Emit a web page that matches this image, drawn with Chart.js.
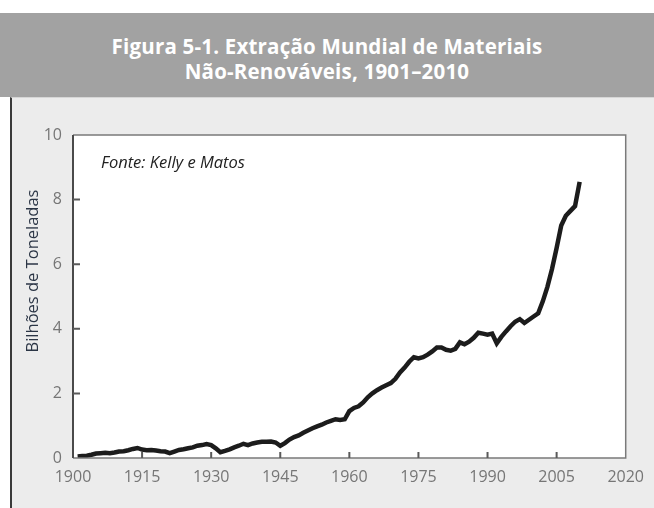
<!DOCTYPE html>
<html>
<head>
<meta charset="utf-8">
<script src="https://cdn.jsdelivr.net/npm/chart.js@4.4.1/dist/chart.umd.min.js"></script>
<style>
  html, body { margin: 0; padding: 0; background: #fff; }
  #page { position: relative; width: 654px; height: 508px; overflow: hidden; }
  #header {
    position: absolute; left: 0; top: 13px; width: 654px; height: 84px;
    background: #a2a2a2; color: #fff; text-align: center;
    font-family: "Open Sans", sans-serif; font-weight: 700; font-size: 20.5px;
    line-height: 25px; box-sizing: border-box; padding-top: 21px; letter-spacing: 0.2px;
  }
  #panel {
    position: absolute; left: 10px; top: 97px; width: 644px; height: 411px;
    background: #ececec; border-left: 2px solid #3a3a3a; border-top: 1px solid #d6d6d6;
    box-sizing: border-box;
  }
  #chart { position: absolute; left: 0; top: 0; }
</style>
</head>
<body>
<div id="page">
  <div id="header">Figura 5-1. Extração Mundial de Materiais<br>Não-Renováveis, 1901–2010</div>
  <div id="panel"></div>
  <canvas id="chart" width="654" height="508"></canvas>
</div>
<script>
// anos e valores (bilhões de toneladas)
var years = [];
for (var yr = 1901; yr <= 2010; yr++) years.push(yr);

var tonnes = [
  0.05, 0.06, 0.07, 0.10, 0.14, 0.15, 0.16, 0.15, 0.17, 0.20,   // 1901-1910
  0.21, 0.24, 0.28, 0.31, 0.26, 0.24, 0.25, 0.23, 0.21, 0.20,   // 1911-1920
  0.15, 0.20, 0.25, 0.27, 0.30, 0.33, 0.38, 0.40, 0.43, 0.40,   // 1921-1930
  0.30, 0.18, 0.22, 0.27, 0.33, 0.38, 0.44, 0.40, 0.45, 0.48,   // 1931-1940
  0.50, 0.50, 0.51, 0.48, 0.38, 0.46, 0.57, 0.65, 0.70, 0.78,   // 1941-1950
  0.85, 0.92, 0.98, 1.03, 1.10, 1.15, 1.20, 1.18, 1.20, 1.45,   // 1951-1960
  1.55, 1.60, 1.72, 1.88, 2.00, 2.10, 2.18, 2.25, 2.32, 2.45,   // 1961-1970
  2.65, 2.80, 2.98, 3.12, 3.08, 3.12, 3.20, 3.30, 3.42, 3.42,   // 1971-1980
  3.35, 3.32, 3.38, 3.58, 3.52, 3.60, 3.72, 3.88, 3.85, 3.82,   // 1981-1990
  3.85, 3.55, 3.75, 3.92, 4.08, 4.22, 4.30, 4.18, 4.28, 4.38,   // 1991-2000
  4.48, 4.85, 5.30, 5.85, 6.50, 7.20, 7.50, 7.65, 7.80, 8.55    // 2001-2010
];

var xTicks = [1900, 1915, 1930, 1945, 1960, 1975, 1990, 2005, 2020];
var yTicks = [0, 2, 4, 6, 8, 10];

var points = years.map(function (y, i) { return { x: y, y: tonnes[i] }; });

var tickFont = { family: "'Open Sans', sans-serif", size: 16 };

// moldura do gráfico, marcas internas, título do eixo e fonte
var framePlugin = {
  id: 'frame',
  afterDraw: function (chart) {
    var ctx = chart.ctx, a = chart.chartArea;
    var xs = chart.scales.x, ys = chart.scales.y;
    ctx.save();
    ctx.strokeStyle = '#7a7a7a';
    ctx.lineWidth = 1.5;
    ctx.beginPath();
    ctx.moveTo(a.left, a.top); ctx.lineTo(a.right, a.top);
    ctx.lineTo(a.right, a.bottom); ctx.lineTo(a.left, a.bottom);
    ctx.stroke();
    ctx.strokeStyle = '#4a4a4a';
    ctx.lineWidth = 2;
    ctx.beginPath();
    ctx.moveTo(a.left, a.top); ctx.lineTo(a.left, a.bottom);
    ctx.stroke();
    ctx.strokeStyle = '#5a5a5a';
    ctx.lineWidth = 2;
    ctx.beginPath();
    xTicks.slice(1, -1).forEach(function (t) {
      var px = xs.getPixelForValue(t);
      ctx.moveTo(px, a.bottom); ctx.lineTo(px, a.bottom - 6);
    });
    yTicks.slice(1, -1).forEach(function (t) {
      var py = ys.getPixelForValue(t);
      ctx.moveTo(a.left, py); ctx.lineTo(a.left + 7, py);
    });
    ctx.stroke();

    ctx.fillStyle = '#2b3545';
    ctx.font = "16.5px 'Open Sans', sans-serif";
    ctx.textAlign = 'center';
    ctx.textBaseline = 'middle';
    ctx.translate(33, 271);
    ctx.rotate(-Math.PI / 2);
    ctx.fillText('Bilhões de Toneladas', 0, 0);
    ctx.restore();

    ctx.save();
    ctx.fillStyle = '#222';
    ctx.font = "italic 16.5px 'Open Sans', sans-serif";
    ctx.textAlign = 'left';
    ctx.textBaseline = 'middle';
    ctx.fillText('Fonte: Kelly e Matos', a.left + 28, a.top + 28);
    ctx.restore();
  }
};

var chartAreaBg = {
  id: 'areaBg',
  beforeDraw: function (chart) {
    var a = chart.chartArea;
    chart.ctx.save();
    chart.ctx.fillStyle = '#ffffff';
    chart.ctx.fillRect(a.left, a.top, a.right - a.left, a.bottom - a.top);
    chart.ctx.restore();
  }
};

new Chart(document.getElementById('chart'), {
  type: 'line',
  data: {
    datasets: [{
      data: points,
      borderColor: '#1c1c1c',
      borderWidth: 4.5,
      pointRadius: 0,
      tension: 0,
      fill: false
    }]
  },
  options: {
    responsive: false,
    animation: false,
    layout: { padding: { top: 135, right: 22, left: 0, bottom: 0 } },
    plugins: { legend: { display: false }, tooltip: { enabled: false } },
    scales: {
      x: {
        type: 'linear',
        min: 1900, max: 2020,
        afterFit: function (s) { s.height = 50; },
        afterBuildTicks: function (s) { s.ticks = xTicks.map(function (v) { return { value: v }; }); },
        grid: { display: false, drawTicks: false },
        border: { display: false },
        ticks: { color: '#767676', font: tickFont, padding: 10, maxRotation: 0,
                 callback: function (v) { return String(v); } }
      },
      y: {
        min: 0, max: 10,
        afterFit: function (s) { s.width = 73; },
        afterBuildTicks: function (s) { s.ticks = yTicks.map(function (v) { return { value: v }; }); },
        grid: { display: false, drawTicks: false },
        border: { display: false },
        ticks: { color: '#767676', font: tickFont, padding: 11 }
      }
    }
  },
  plugins: [chartAreaBg, framePlugin]
});
</script>
</body>
</html>
